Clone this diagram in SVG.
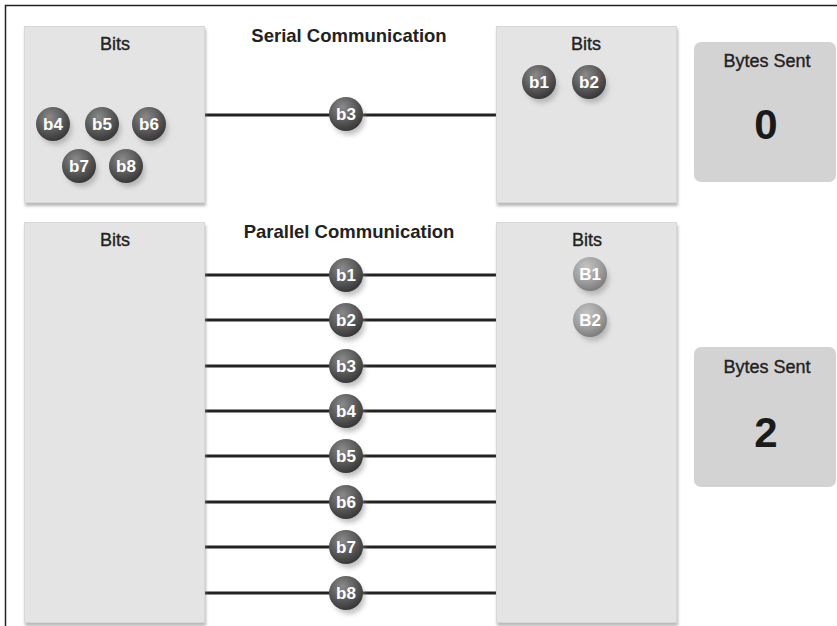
<svg xmlns="http://www.w3.org/2000/svg" width="837" height="626" viewBox="0 0 837 626">
<style>
text{font-family:"Liberation Sans",Arial,sans-serif;text-anchor:middle}
.box{fill:#e4e4e4;stroke:#d8d8d8;stroke-width:1}
.bytes{fill:#d3d3d3}
.lbl{font-size:18px;fill:#222;stroke:#222;stroke-width:0.35}
.title{font-size:18.5px;font-weight:bold;fill:#222}
.num{font-size:42px;font-weight:bold;fill:#1a1a1a}
.bt{font-size:17px;font-weight:bold;fill:#fff}
.wire{stroke:#222;stroke-width:3;fill:none}
.frame{stroke:#222;stroke-width:1.5;fill:none}
</style>
<defs>
<radialGradient id="dark" cx="0.4" cy="0.3" r="0.75">
<stop offset="0" stop-color="#8a8a8a"/>
<stop offset="0.6" stop-color="#555"/>
<stop offset="1" stop-color="#333"/>
</radialGradient>
<radialGradient id="light" cx="0.4" cy="0.3" r="0.75">
<stop offset="0" stop-color="#c4c4c4"/>
<stop offset="0.6" stop-color="#9c9c9c"/>
<stop offset="1" stop-color="#777"/>
</radialGradient>
<filter id="blur" x="-50%" y="-50%" width="200%" height="200%"><feGaussianBlur stdDeviation="2.5"/></filter>
<filter id="bshadow" x="-10%" y="-10%" width="120%" height="120%"><feDropShadow dx="1" dy="3" stdDeviation="1.5" flood-color="#888" flood-opacity="0.6"/></filter>
<g id="ballD"><circle cx="3" cy="5" r="16" fill="#999" opacity="0.6" filter="url(#blur)"/><circle r="17" fill="url(#dark)"/></g>
<g id="ballL"><circle cx="3" cy="5" r="16" fill="#999" opacity="0.6" filter="url(#blur)"/><circle r="17" fill="url(#light)"/></g>
</defs>
<rect width="837" height="626" fill="#fff"/>
<path class="frame" d="M5.5 626 V5.5 H837"/>

<g id="connectors">
<line class="wire" x1="205" y1="115" x2="496" y2="115"/>
<line class="wire" x1="205" y1="275" x2="496" y2="275"/>
<line class="wire" x1="205" y1="320" x2="496" y2="320"/>
<line class="wire" x1="205" y1="366" x2="496" y2="366"/>
<line class="wire" x1="205" y1="411" x2="496" y2="411"/>
<line class="wire" x1="205" y1="456" x2="496" y2="456"/>
<line class="wire" x1="205" y1="502" x2="496" y2="502"/>
<line class="wire" x1="205" y1="547" x2="496" y2="547"/>
<line class="wire" x1="205" y1="593" x2="496" y2="593"/>
</g>

<g id="serial-title"><text class="title" x="349" y="42">Serial Communication</text></g>
<g id="parallel-title"><text class="title" x="349" y="238">Parallel Communication</text></g>

<g id="serial-sender">
<rect class="box" x="24.5" y="26.5" width="180" height="176" filter="url(#bshadow)"/>
<text class="lbl" x="115" y="50">Bits</text>
<use href="#ballD" x="53" y="124"/><text class="bt" x="53" y="130">b4</text>
<use href="#ballD" x="102" y="124"/><text class="bt" x="102" y="130">b5</text>
<use href="#ballD" x="149" y="124"/><text class="bt" x="149" y="130">b6</text>
<use href="#ballD" x="79" y="166"/><text class="bt" x="79" y="172">b7</text>
<use href="#ballD" x="126" y="166"/><text class="bt" x="126" y="172">b8</text>
</g>

<g id="serial-receiver">
<rect class="box" x="496.5" y="26.5" width="180" height="176" filter="url(#bshadow)"/>
<text class="lbl" x="586" y="50">Bits</text>
<use href="#ballD" x="539" y="82"/><text class="bt" x="539" y="88">b1</text>
<use href="#ballD" x="589" y="82"/><text class="bt" x="589" y="88">b2</text>
</g>

<g id="serial-bit">
<use href="#ballD" x="346" y="114"/><text class="bt" x="346" y="120">b3</text>
</g>

<g id="bytes-serial">
<rect class="bytes" x="694" y="42" width="142" height="140" rx="7"/>
<text class="lbl" x="767" y="67">Bytes Sent</text>
<text class="num" x="766" y="139">0</text>
</g>

<g id="parallel-sender">
<rect class="box" x="24.5" y="222.5" width="180" height="400" filter="url(#bshadow)"/>
<text class="lbl" x="115" y="246">Bits</text>
</g>

<g id="parallel-receiver">
<rect class="box" x="496.5" y="222.5" width="180" height="400" filter="url(#bshadow)"/>
<text class="lbl" x="587" y="246">Bits</text>
<use href="#ballL" x="590" y="274"/><text class="bt" x="590" y="280">B1</text>
<use href="#ballL" x="590" y="320"/><text class="bt" x="590" y="326">B2</text>
</g>

<g id="parallel-bits">
<use href="#ballD" x="346" y="275"/><text class="bt" x="346" y="281">b1</text>
<use href="#ballD" x="346" y="320"/><text class="bt" x="346" y="326">b2</text>
<use href="#ballD" x="346" y="366"/><text class="bt" x="346" y="372">b3</text>
<use href="#ballD" x="346" y="411"/><text class="bt" x="346" y="417">b4</text>
<use href="#ballD" x="346" y="456"/><text class="bt" x="346" y="462">b5</text>
<use href="#ballD" x="346" y="502"/><text class="bt" x="346" y="508">b6</text>
<use href="#ballD" x="346" y="547"/><text class="bt" x="346" y="553">b7</text>
<use href="#ballD" x="346" y="593"/><text class="bt" x="346" y="599">b8</text>
</g>

<g id="bytes-parallel">
<rect class="bytes" x="694" y="347" width="142" height="140" rx="7"/>
<text class="lbl" x="767" y="373">Bytes Sent</text>
<text class="num" x="766" y="447">2</text>
</g>
</svg>
